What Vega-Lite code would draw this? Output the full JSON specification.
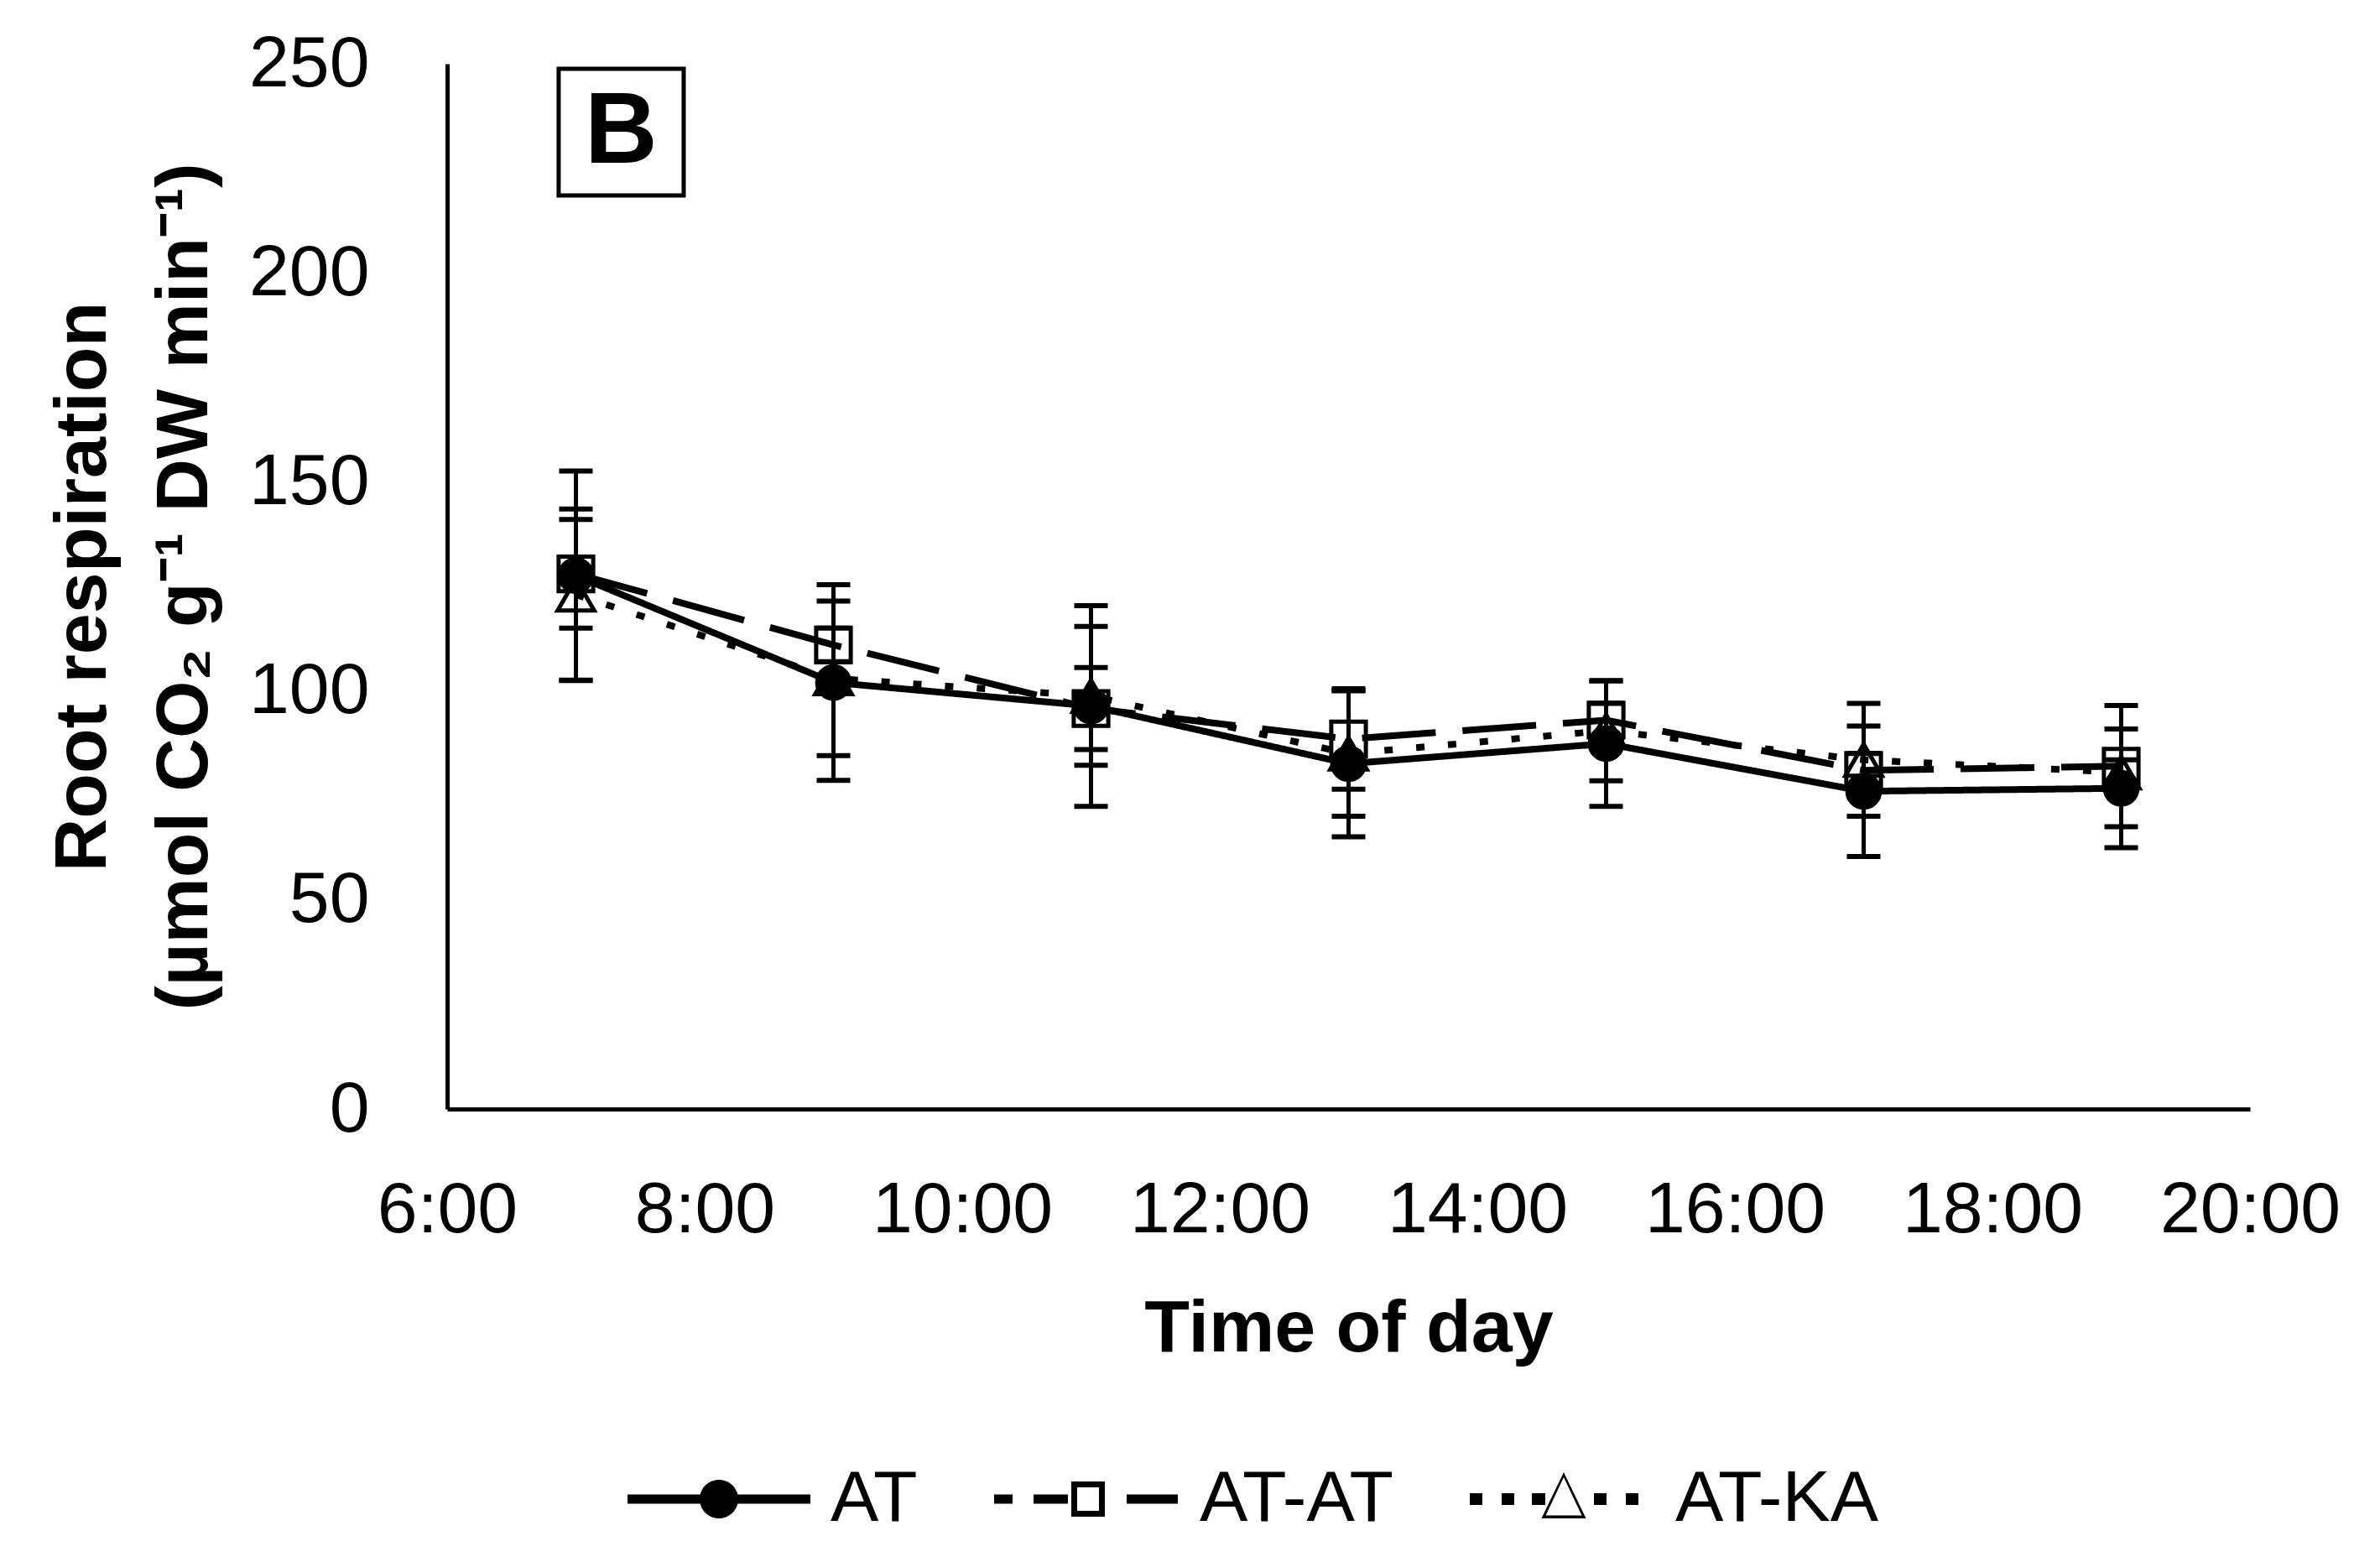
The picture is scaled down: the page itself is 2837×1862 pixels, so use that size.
{
  "$schema": "https://vega.github.io/schema/vega-lite/v6.json",
  "width": 2149,
  "height": 1246,
  "autosize": {"type": "none"},
  "padding": {"left": 533, "top": 76, "right": 155, "bottom": 540},
  "background": "white",
  "data": {
    "values": [
      {"hour": 7, "series": "AT", "value": 127.6, "err": 25},
      {"hour": 9, "series": "AT", "value": 102, "err": 23.4},
      {"hour": 11, "series": "AT", "value": 96.4, "err": 24},
      {"hour": 13, "series": "AT", "value": 82.6, "err": 17.5},
      {"hour": 15, "series": "AT", "value": 87.4, "err": 15},
      {"hour": 17, "series": "AT", "value": 76, "err": 15.6},
      {"hour": 19, "series": "AT", "value": 76.7, "err": 14.2},
      {"hour": 7, "series": "AT-AT", "value": 128, "err": 13},
      {"hour": 9, "series": "AT-AT", "value": 111, "err": 4},
      {"hour": 11, "series": "AT-AT", "value": 95.8, "err": 9.8},
      {"hour": 13, "series": "AT-AT", "value": 88.5, "err": 12},
      {"hour": 15, "series": "AT-AT", "value": 93, "err": 4},
      {"hour": 17, "series": "AT-AT", "value": 81, "err": 4},
      {"hour": 19, "series": "AT-AT", "value": 82, "err": 14.5},
      {"hour": 7, "series": "AT-KA", "value": 123, "err": 20.5},
      {"hour": 9, "series": "AT-KA", "value": 103, "err": 18.5},
      {"hour": 11, "series": "AT-KA", "value": 98.8, "err": 16.6},
      {"hour": 13, "series": "AT-KA", "value": 85, "err": 15},
      {"hour": 15, "series": "AT-KA", "value": 90.5, "err": 12},
      {"hour": 17, "series": "AT-KA", "value": 83.5, "err": 13.5},
      {"hour": 19, "series": "AT-KA", "value": 80.5, "err": 3}
    ]
  },
  "encoding": {
    "x": {
      "field": "hour",
      "type": "quantitative",
      "scale": {"domain": [6, 20], "nice": false, "zero": false},
      "axis": {
        "values": [6, 8, 10, 12, 14, 16, 18, 20],
        "labelExpr": "datum.value + ':00'",
        "title": "Time of day",
        "labelPadding": 78,
        "titlePadding": 55,
        "labelFlush": false,
        "labelOverlap": false,
        "labelLimit": 0
      }
    },
    "y": {
      "field": "value",
      "type": "quantitative",
      "scale": {"domain": [0, 250], "nice": false},
      "axis": {
        "values": [0, 50, 100, 150, 200, 250],
        "title": ["Root respiration", "(µmol CO₂ g⁻¹ DW min⁻¹)"],
        "labelPadding": 93,
        "titlePadding": 69,
        "titleLineHeight": 121
      }
    }
  },
  "layer": [
    {
      "data": {"values": [{"hour": 6.866, "hour2": 7.837, "value": 218.5, "value2": 248.8}]},
      "mark": {"type": "rect", "fill": "white", "stroke": "black", "strokeWidth": 5},
      "encoding": {
        "x2": {"field": "hour2"},
        "y2": {"field": "value2"}
      }
    },
    {
      "data": {"values": [{"hour": 7.35, "value": 233.5, "label": "B"}]},
      "mark": {"type": "text", "font": "Liberation Sans", "fontSize": 120, "fontWeight": "bold", "color": "black", "align": "center", "baseline": "middle"},
      "encoding": {
        "text": {"field": "label"}
      }
    },
    {
      "mark": {
        "type": "errorbar",
        "color": "black",
        "opacity": 1,
        "ticks": {"size": 40, "thickness": 6, "color": "black", "opacity": 1},
        "rule": {"strokeWidth": 5, "color": "black", "opacity": 1}
      },
      "encoding": {
        "yError": {"field": "err"},
        "detail": {"field": "series"}
      }
    },
    {
      "mark": {"type": "line", "color": "black", "strokeWidth": 8},
      "encoding": {
        "strokeDash": {
          "field": "series",
          "type": "nominal",
          "scale": {"domain": ["AT", "AT-AT", "AT-KA"], "range": [[1, 0], [88, 32], [10, 28]]},
          "legend": null
        }
      }
    },
    {
      "mark": {"type": "point", "stroke": "black", "strokeWidth": 5, "opacity": 1, "fillOpacity": 1},
      "encoding": {
        "shape": {
          "field": "series",
          "type": "nominal",
          "scale": {"domain": ["AT", "AT-AT", "AT-KA"], "range": ["circle", "square", "triangle-up"]},
          "legend": null
        },
        "fill": {
          "field": "series",
          "type": "nominal",
          "scale": {"domain": ["AT", "AT-AT", "AT-KA"], "range": ["black", "rgba(0,0,0,0)", "rgba(0,0,0,0)"]},
          "legend": null
        },
        "size": {
          "field": "series",
          "type": "nominal",
          "scale": {"domain": ["AT", "AT-AT", "AT-KA"], "range": [1500, 1900, 2200]},
          "legend": null
        }
      }
    },
    {
      "transform": [{"filter": "datum.hour > 100"}],
      "mark": {"type": "point", "filled": true, "color": "black", "strokeWidth": 0, "opacity": 1},
      "encoding": {
        "shape": {
          "field": "series",
          "type": "nominal",
          "scale": {
            "domain": ["AT", "AT-AT", "AT-KA"],
            "range": [
              "M-10.9,-0.55L10.9,-0.55L10.9,0.55L-10.9,0.55ZM-2.3,0A2.3,2.3 0 1,1 2.3,0A2.3,2.3 0 1,1 -2.3,0Z",
              "M-11.2,-0.55L-9,-0.55L-9,0.55L-11.2,0.55ZM-6.5,-0.55L-2.4,-0.55L-2.4,0.55L-6.5,0.55ZM4.6,-0.55L10.7,-0.55L10.7,0.55L4.6,0.55ZM-2,-2.1L2,-2.1L2,2.1L-2,2.1ZM-1.3,-1.4L-1.3,1.4L1.3,1.4L1.3,-1.4Z",
              "M-11.2,-0.7L-9.7,-0.7L-9.7,0.7L-11.2,0.7ZM-7.4,-0.7L-5.9,-0.7L-5.9,0.7L-7.4,0.7ZM-3.8,-0.7L-2.2,-0.7L-2.2,0.7L-3.8,0.7ZM3.6,-0.7L5.1,-0.7L5.1,0.7L3.6,0.7ZM7.4,-0.7L8.9,-0.7L8.9,0.7L7.4,0.7ZM0,-3.2L2.65,2.3L-2.65,2.3ZM0,-2.6L-2.15,1.95L2.15,1.95Z"
            ]
          },
          "legend": {
            "title": null,
            "orient": "none",
            "direction": "horizontal",
            "legendX": 281,
            "legendY": 1668,
            "padding": 0,
            "symbolSize": 400,
            "symbolStrokeWidth": 0,
            "symbolFillColor": "black",
            "symbolOpacity": 1,
            "labelOffset": 90,
            "columnPadding": 91,
            "labelLimit": 0,
            "labelFont": "Liberation Sans",
            "labelFontSize": 86,
            "labelColor": "black"
          }
        }
      }
    }
  ],
  "resolve": {
    "scale": {"shape": "independent"},
    "legend": {"shape": "independent"}
  },
  "config": {
    "view": {"stroke": null},
    "axis": {
      "grid": false,
      "ticks": false,
      "tickSize": 0,
      "domainColor": "black",
      "domainWidth": 5,
      "labelFont": "Liberation Sans",
      "labelFontSize": 86,
      "labelColor": "black",
      "titleFont": "Liberation Sans",
      "titleFontSize": 88,
      "titleFontWeight": "bold",
      "titleColor": "black"
    }
  }
}
